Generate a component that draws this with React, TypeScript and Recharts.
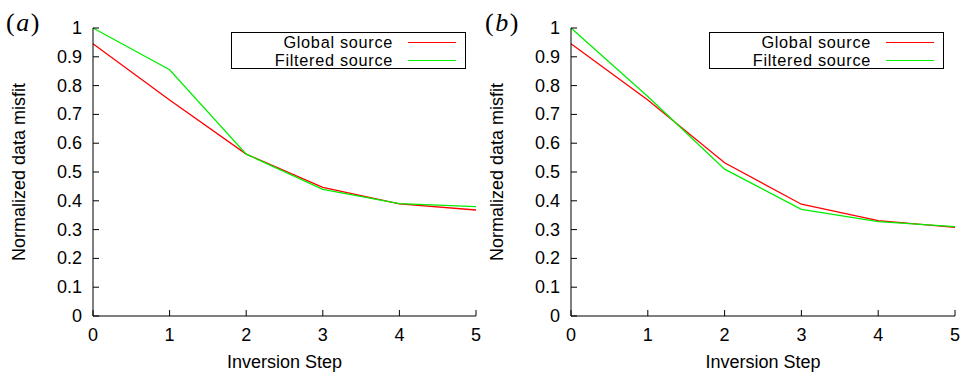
import React from 'react';
import { LineChart, Line, XAxis, YAxis, Legend, Label } from 'recharts';

const steps = [0, 1, 2, 3, 4, 5];
const yTicks = [0, 0.1, 0.2, 0.3, 0.4, 0.5, 0.6, 0.7, 0.8, 0.9, 1];

// panel (a)
const globalA = [0.945, 0.75, 0.562, 0.447, 0.389, 0.368];
const filteredA = [1.0, 0.855, 0.562, 0.44, 0.39, 0.38];
// panel (b)
const globalB = [0.945, 0.75, 0.532, 0.388, 0.331, 0.308];
const filteredB = [1.0, 0.762, 0.51, 0.37, 0.328, 0.31];

const seriesNames = ['Global source', 'Filtered source'];
const seriesColors = ['#ff0000', '#00ee00'];

const FONT = '"Liberation Sans", Arial, Helvetica, sans-serif';
const TICK = 6;

const LeftTick = (p: any) => (
  <g>
    <line x1={p.x} x2={p.x + TICK} y1={p.y} y2={p.y} stroke="#000" />
    <text x={p.x - 11} y={p.y + 6} textAnchor="end" fontSize={18} fontFamily={FONT} fill="#000">
      {p.payload.value}
    </text>
  </g>
);

const RightTick = (p: any) => (
  <line x1={p.x} x2={p.x - TICK} y1={p.y} y2={p.y} stroke="#000" />
);

const BottomTick = (p: any) => (
  <g>
    <line x1={p.x} x2={p.x} y1={p.y} y2={p.y - TICK} stroke="#000" />
    <text x={p.x} y={p.y + 25} textAnchor="middle" fontSize={18} fontFamily={FONT} fill="#000">
      {p.payload.value}
    </text>
  </g>
);

const TopTick = (p: any) => (
  <line x1={p.x} x2={p.x} y1={p.y} y2={p.y + TICK} stroke="#000" />
);

const LegendBox = () => (
  <div
    style={{
      width: 235,
      height: 37,
      border: '1px solid #000',
      boxSizing: 'border-box',
      background: '#fff',
      position: 'relative',
      fontFamily: FONT,
      fontSize: 16.3,
      letterSpacing: 0.7,
      color: '#000',
    }}
  >
    {seriesNames.map((name, i) => (
      <div key={name}>
        <div
          style={{
            position: 'absolute',
            right: 72,
            top: i === 0 ? 1 : 19.3,
            lineHeight: '16px',
            whiteSpace: 'nowrap',
          }}
        >
          {name}
        </div>
        <div
          style={{
            position: 'absolute',
            left: 176,
            width: 48,
            top: i === 0 ? 9 : 27,
            height: 1.4,
            background: seriesColors[i],
          }}
        />
      </div>
    ))}
  </div>
);

type PanelProps = {
  tag: string;
  globalVals: number[];
  filteredVals: number[];
  axisWidth: number;
  rightMargin: number;
  legendLeft: number;
  titleX: number;
  tagX: number;
};

const Panel = ({ tag, globalVals, filteredVals, axisWidth, rightMargin, legendLeft, titleX, tagX }: PanelProps) => {
  const data = steps.map((s, i) => ({ step: s, global: globalVals[i], filtered: filteredVals[i] }));
  return (
    <LineChart width={484} height={378} data={data} margin={{ top: 28, right: rightMargin, bottom: 0, left: 0 }}>
      <XAxis
        dataKey="step"
        type="number"
        domain={[0, 5]}
        ticks={steps}
        height={62}
        stroke="#000"
        tickSize={0}
        tickMargin={0}
        tickLine={false}
        tick={<BottomTick />}
        interval={0}
      >
        <Label
          content={(props: any) => {
            const vb = props.viewBox;
            return (
              <text x={vb.x + vb.width / 2} y={vb.y + 52} textAnchor="middle" fontSize={18} fontFamily={FONT} fill="#000">
                Inversion Step
              </text>
            );
          }}
        />
      </XAxis>
      <XAxis
        xAxisId="top"
        orientation="top"
        dataKey="step"
        type="number"
        domain={[0, 5]}
        ticks={steps}
        height={0}
        stroke="#000"
        tickSize={0}
        tickMargin={0}
        tickLine={false}
        tick={<TopTick />}
        interval={0}
      />
      <YAxis
        type="number"
        domain={[0, 1]}
        ticks={yTicks}
        width={axisWidth}
        stroke="#000"
        tickSize={0}
        tickMargin={0}
        tickLine={false}
        tick={<LeftTick />}
        interval={0}
      >
        <Label
          content={(props: any) => {
            const vb = props.viewBox;
            const cy = vb.y + vb.height / 2;
            return (
              <g>
                <text
                  x={titleX}
                  y={cy}
                  textAnchor="middle"
                  fontSize={18}
                  fontFamily={FONT}
                  fill="#000"
                  transform={`rotate(-90, ${titleX}, ${cy})`}
                >
                  Normalized data misfit
                </text>
                <text
                  x={tagX}
                  y={31}
                  fontSize={26}
                  letterSpacing={1.5}
                  fontFamily='"Liberation Serif", "DejaVu Serif", serif'
                  fill="#000"
                >
                  (<tspan fontStyle="italic">{tag}</tspan>)
                </text>
              </g>
            );
          }}
        />
      </YAxis>
      <YAxis
        yAxisId="right"
        orientation="right"
        type="number"
        domain={[0, 1]}
        ticks={yTicks}
        width={0}
        stroke="#000"
        tickSize={0}
        tickMargin={0}
        tickLine={false}
        tick={<RightTick />}
        interval={0}
      />
      <Legend
        layout="vertical"
        align="center"
        verticalAlign="middle"
        content={<LegendBox />}
        wrapperStyle={{ left: legendLeft, top: 32, width: 235, height: 37, bottom: 'auto', right: 'auto' }}
      />
      <Line
        dataKey="global"
        name={seriesNames[0]}
        stroke={seriesColors[0]}
        strokeWidth={1.3}
        dot={false}
        activeDot={false}
        isAnimationActive={false}
      />
      <Line
        dataKey="filtered"
        name={seriesNames[1]}
        stroke={seriesColors[1]}
        strokeWidth={1.3}
        dot={false}
        activeDot={false}
        isAnimationActive={false}
      />
    </LineChart>
  );
};

export default function App() {
  return (
    <div style={{ position: 'absolute', left: 0, top: 0, width: 968, height: 378, background: '#fff', display: 'flex' }}>
      <Panel
        tag="a"
        globalVals={globalA}
        filteredVals={filteredA}
        axisWidth={93}
        rightMargin={8}
        legendLeft={231}
        titleX={25}
        tagX={6}
      />
      <Panel
        tag="b"
        globalVals={globalB}
        filteredVals={filteredB}
        axisWidth={87}
        rightMargin={13}
        legendLeft={225}
        titleX={19}
        tagX={1}
      />
    </div>
  );
}
